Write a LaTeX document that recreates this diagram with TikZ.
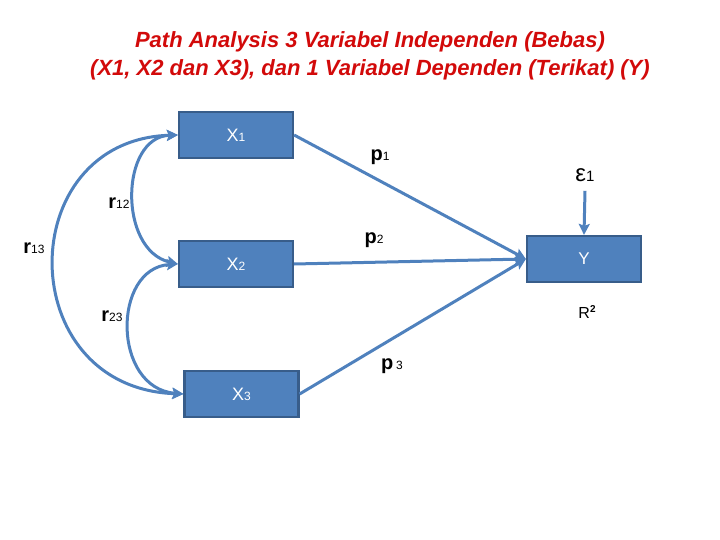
\documentclass[tikz,border=0pt]{standalone}
\usepackage{fontspec}
\setmainfont{Liberation Sans}
\usetikzlibrary{arrows.meta}
\definecolor{boxfill}{RGB}{79,129,189}
\definecolor{boxline}{RGB}{56,93,138}
\definecolor{titlered}{RGB}{210,10,10}
\tikzset{
  varbox/.style={draw=boxline, line width=2.2pt, fill=boxfill, text=white, minimum width=114pt, minimum height=46pt, inner sep=0pt},
  conn/.style={draw=boxfill, line width=3pt, -{Stealth[length=11pt,width=11pt,inset=2pt]}},
  corr/.style={draw=boxfill, line width=3pt, {Stealth[length=11pt,width=11pt,inset=2pt]}-{Stealth[length=11pt,width=11pt,inset=2pt]}},
  lbl/.style={text=black, inner sep=0pt}
}
\newcommand{\smd}[1]{{\fontsize{12}{12}\selectfont #1}}
\newcommand{\mylet}[1]{{\fontsize{20}{20}\selectfont\bfseries #1}}
\begin{document}
\begin{tikzpicture}[x=1pt,y=-1pt]
\useasboundingbox (0,0) rectangle (720,540);
\node[text=titlered, align=center, font=\bfseries\itshape\fontsize{22}{28}\selectfont] (title) at (370,56) {Path Analysis 3 Variabel Independen (Bebas)\\(X1, X2 dan X3), dan 1 Variabel Dependen (Terikat) (Y)};
\node[varbox] (x1) at (236,135) {{\fontsize{18}{18}\selectfont X}\smd{1}};
\node[varbox] (x2) at (236,264) {{\fontsize{18}{18}\selectfont X}\smd{2}};
\node[varbox] (x3) at (241.5,394) {{\fontsize{18}{18}\selectfont X}\smd{3}};
\node[varbox] (y) at (584,259) {{\fontsize{17}{17}\selectfont Y}};
\node[lbl] (eps) at (585,175) {{\fontsize{24}{24}\selectfont ε}{\fontsize{15}{15}\selectfont 1}};
\node[lbl] (r2) at (587,312) {{\fontsize{16}{16}\selectfont R}\raisebox{6pt}{\fontsize{10}{10}\selectfont\bfseries 2}};
\node[lbl] (p1) at (380,157) {\mylet{p}\smd{1}};
\node[lbl] (p2) at (374,240) {\mylet{p}\smd{2}};
\node[lbl] (p3) at (392,366) {\mylet{p} \smd{3}};
\node[lbl] (r12) at (119,203) {\mylet{r}\smd{12}};
\node[lbl] (r13) at (34,248) {\mylet{r}\smd{13}};
\node[lbl] (r23) at (112,316) {\mylet{r}\smd{23}};
\draw[conn] (x1.east) -- (y.west);
\draw[conn] (x2.east) -- (y.west);
\draw[conn] (x3.east) -- (y.west);
\path (eps.south) ++(0,9) coordinate (e0);
\draw[conn] (e0) -- (y.north);
\draw[corr] (x1.west) .. controls (120,137) and (118,250) .. (x2.west);
\draw[corr] (x1.west) .. controls (12,140) and (12,388) .. (x3.west);
\draw[corr] (x2.west) .. controls (112,268) and (112,388) .. (x3.west);
\end{tikzpicture}
\end{document}
